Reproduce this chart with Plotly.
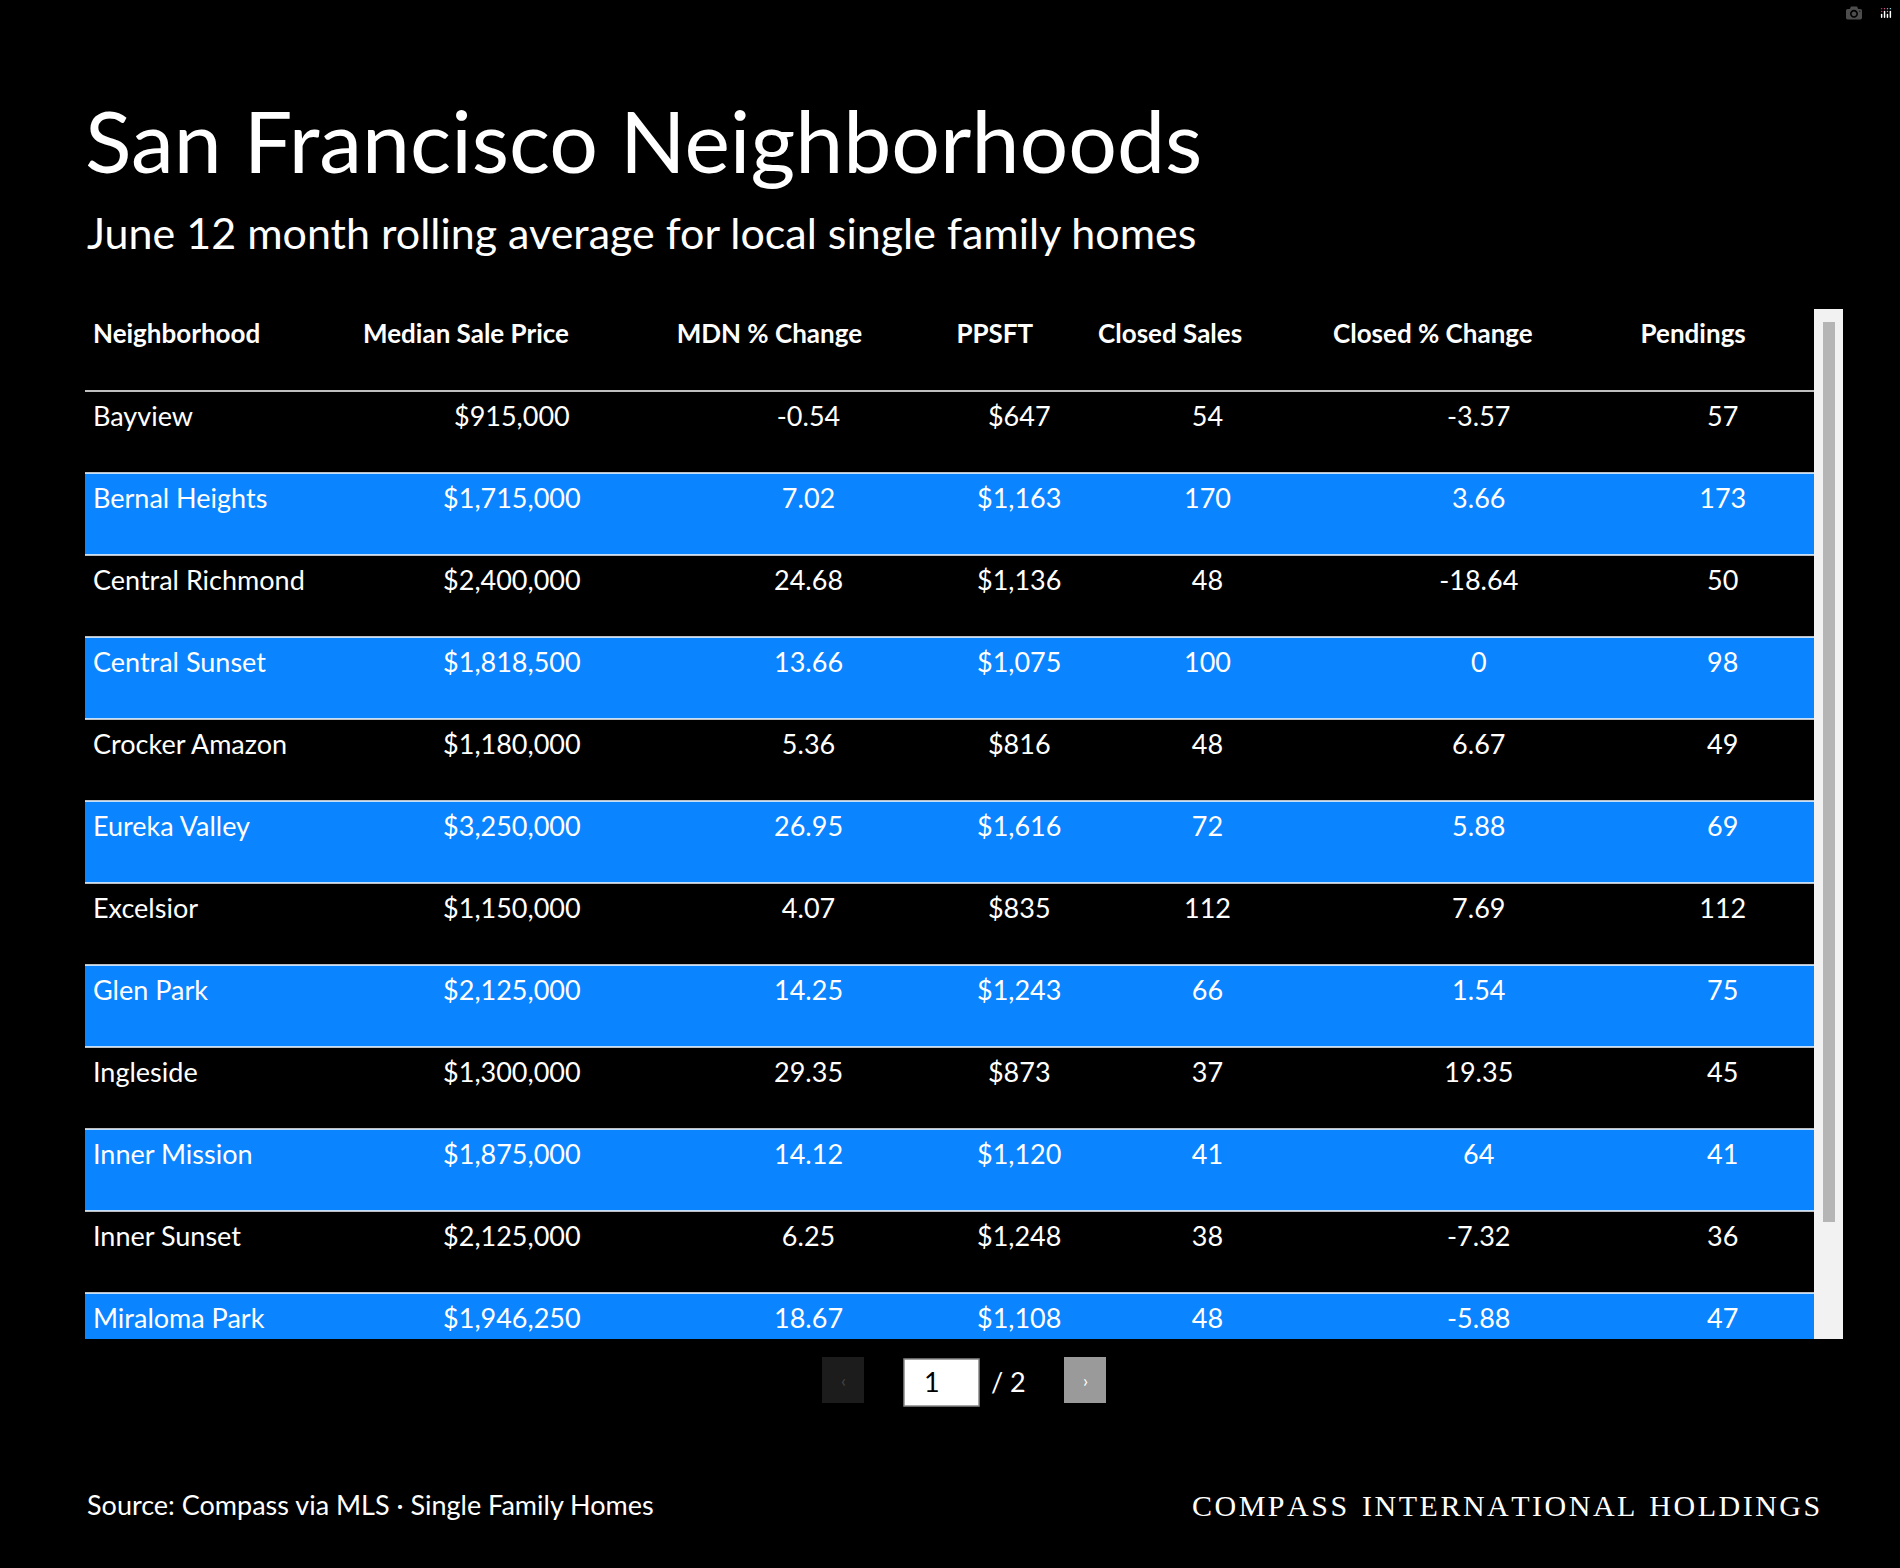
import plotly.graph_objects as go

W, H = 1900, 1568

headers = ["Neighborhood", "Median Sale Price", "MDN % Change", "PPSFT",
           "Closed Sales", "Closed % Change", "Pendings"]
neighborhoods = ["Bayview", "Bernal Heights", "Central Richmond", "Central Sunset",
                 "Crocker Amazon", "Eureka Valley", "Excelsior", "Glen Park",
                 "Ingleside", "Inner Mission", "Inner Sunset", "Miraloma Park"]
median_price = ["$915,000", "$1,715,000", "$2,400,000", "$1,818,500", "$1,180,000",
                "$3,250,000", "$1,150,000", "$2,125,000", "$1,300,000", "$1,875,000",
                "$2,125,000", "$1,946,250"]
mdn_change = ["-0.54", "7.02", "24.68", "13.66", "5.36", "26.95", "4.07", "14.25",
              "29.35", "14.12", "6.25", "18.67"]
ppsft = ["$647", "$1,163", "$1,136", "$1,075", "$816", "$1,616", "$835", "$1,243",
         "$873", "$1,120", "$1,248", "$1,108"]
closed_sales = [54, 170, 48, 100, 48, 72, 112, 66, 37, 41, 38, 48]
closed_change = ["-3.57", "3.66", "-18.64", "0", "6.67", "5.88", "7.69", "1.54",
                 "19.35", "64", "-7.32", "-5.88"]
pendings = [57, 173, 50, 98, 49, 69, 112, 75, 45, 41, 36, 47]

col_widths = [223, 259, 231, 117, 194, 254, 149]
BLUE = "#0a84ff"
FONT = "Lato"

def py(p):  # pixel y -> paper
    return 1 - p / H

def px(p):
    return p / W

ROW_H = 82
T_TOP, T_BOT = 309, 1339
T_LEFT, T_RIGHT = 85, 1814

n = len(neighborhoods)
fills = [BLUE if i % 2 else "black" for i in range(n)]

def pad(vals):
    return ["<br>%s" % v for v in vals]

fig = go.Figure(go.Table(
    domain=dict(x=[px(T_LEFT), px(T_RIGHT)], y=[py(T_BOT), py(T_TOP)]),
    columnwidth=col_widths,
    header=dict(values=["<br><b>%s</b>" % h for h in headers], fill_color="black",
                line=dict(width=1, color="black"), align="left", height=ROW_H,
                font=dict(family=FONT, size=26, color="white")),
    cells=dict(values=[pad(neighborhoods), pad(median_price), pad(mdn_change), pad(ppsft),
                       pad(closed_sales), pad(closed_change), pad(pendings)],
               fill_color=[fills] * 7, line=dict(width=1, color=[fills] * 7),
               align=["left"] + ["center"] * 6, height=ROW_H,
               font=dict(family=FONT, size=27, color="white")),
))

# row separators
for k in range(n):
    y = T_TOP + ROW_H * (k + 1)
    if y < T_BOT:
        fig.add_shape(type="line", xref="paper", yref="paper",
                      x0=px(T_LEFT), x1=px(T_RIGHT), y0=py(y), y1=py(y),
                      line=dict(color="white", width=1.5))

# scrollbar
fig.add_shape(type="rect", xref="paper", yref="paper", x0=px(1814), x1=px(1843),
              y0=py(T_BOT), y1=py(T_TOP), fillcolor="#f2f2f2", line=dict(width=0))
fig.add_shape(type="path", xref="paper", yref="paper",
              path="M %f %f L %f %f" % (px(1829), py(322), px(1829), py(1222)),
              line=dict(color="#b5b5b5", width=12))

ann = []
ann.append(dict(text="San Francisco Neighborhoods", x=px(83), y=py(139),
                xanchor="left", yanchor="middle",
                font=dict(family=FONT, size=86, color="white")))
ann.append(dict(text="June 12 month rolling average for local single family homes",
                x=px(85), y=py(233), xanchor="left", yanchor="middle",
                font=dict(family=FONT, size=43, color="white")))
ann.append(dict(text="Source: Compass via MLS · Single Family Homes", x=px(85), y=py(1504),
                xanchor="left", yanchor="middle",
                font=dict(family=FONT, size=27, color="white")))
brand = "  ".join("\u200a".join(w) for w in "COMPASS INTERNATIONAL HOLDINGS".split())
ann.append(dict(text=brand, x=px(1822), y=py(1505), xanchor="right", yanchor="middle",
                font=dict(family="Liberation Serif", size=30, color="white")))

# pagination controls
fig.add_shape(type="rect", xref="paper", yref="paper", x0=px(822), x1=px(864),
              y0=py(1403), y1=py(1357), fillcolor="#1c1c1c", line=dict(width=0))
fig.add_shape(type="rect", xref="paper", yref="paper", x0=px(904), x1=px(979),
              y0=py(1406), y1=py(1359), fillcolor="white", line=dict(color="#888", width=1.5))
fig.add_shape(type="rect", xref="paper", yref="paper", x0=px(1064), x1=px(1106),
              y0=py(1403), y1=py(1357), fillcolor="#9a9a9a", line=dict(width=0))
ann.append(dict(text="‹", x=px(843), y=py(1380), xanchor="center", yanchor="middle",
                font=dict(family=FONT, size=18, color="#444")))
ann.append(dict(text="›", x=px(1085), y=py(1380), xanchor="center", yanchor="middle",
                font=dict(family=FONT, size=18, color="white")))
ann.append(dict(text="1", x=px(922), y=py(1381), xanchor="left", yanchor="middle",
                font=dict(family=FONT, size=27, color="black")))
ann.append(dict(text="/ 2", x=px(989), y=py(1381), xanchor="left", yanchor="middle",
                font=dict(family=FONT, size=27, color="white")))

for a in ann:
    a.update(xref="paper", yref="paper", showarrow=False)

fig.update_layout(width=W, height=H, margin=dict(l=0, r=0, t=0, b=0),
                  paper_bgcolor="black", plot_bgcolor="black", annotations=ann)

fig.write_html("out.html",
               post_script="document.body.style.margin='0';document.body.style.background='black';")
